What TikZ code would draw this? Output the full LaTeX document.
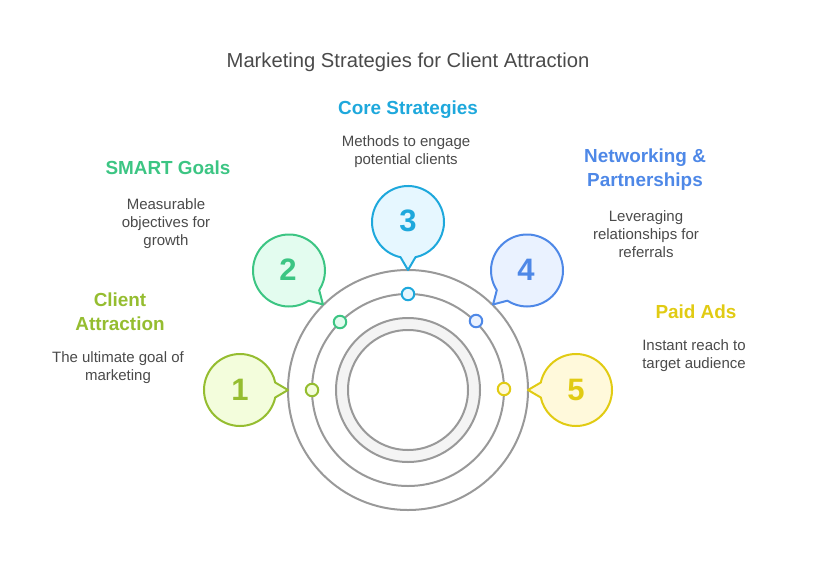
\documentclass[tikz,border=0pt]{standalone}
\usepackage{fontspec}
\setmainfont{Liberation Sans}
\definecolor{ringgrey}{HTML}{999999}
\definecolor{ringfill}{HTML}{F4F4F4}
\definecolor{textgrey}{HTML}{4A4A4A}
\definecolor{limeline}{HTML}{95BD30}
\definecolor{limefill}{HTML}{F3FDDC}
\definecolor{greenline}{HTML}{3CC583}
\definecolor{greenfill}{HTML}{E3FCEF}
\definecolor{cyanline}{HTML}{1EA8DC}
\definecolor{cyanfill}{HTML}{E6F7FF}
\definecolor{blueline}{HTML}{4E88E7}
\definecolor{bluefill}{HTML}{EAF2FF}
\definecolor{yellowline}{HTML}{E1CB13}
\definecolor{yellowfill}{HTML}{FFF9DB}
\tikzset{
    ring/.style={draw=ringgrey, line width=2},
    bubble/.style={line width=2, line join=round},
    dot/.style={circle, line width=2, minimum size=12.5, inner sep=0},
    numlabel/.style={font=\fontsize{31}{31}\selectfont\bfseries},
    heading/.style={font=\fontsize{18.9}{24}\selectfont\bfseries, align=center},
    blurb/.style={font=\fontsize{15}{18}\selectfont, text=textgrey, align=center}
}
\newcommand{\speechbubble}[4]{%
    \draw [bubble, draw=#4line, fill=#4fill] ([shift={(#1,#2)}] #3+12:36) arc [start angle=#3+12, end angle=#3+348, radius=36] -- ([shift={(#1,#2)}] #3:48) -- cycle;
}
\begin{document}
\begin{tikzpicture}[x=1pt, y=-1pt]
    \useasboundingbox (0,0) rectangle (816,570);
    \node (title) at (408,62) [font=\fontsize{20.2}{24}\selectfont, text=textgrey] {Marketing Strategies for Client Attraction};
    % rings
    \draw [ring] (408,390) circle [radius=120];
    \draw [ring] (408,390) circle [radius=96];
    \draw [ring, fill=ringfill] (408,390) circle [radius=72];
    \draw [ring, fill=white] (408,390) circle [radius=60];
    % dots on the middle ring
    \node (dotone) at (312,390) [dot, draw=limeline, fill=limefill] {};
    \node (dottwo) at (340,322) [dot, draw=greenline, fill=greenfill] {};
    \node (dotthree) at (408,294) [dot, draw=cyanline, fill=cyanfill] {};
    \node (dotfour) at (476,321) [dot, draw=blueline, fill=bluefill] {};
    \node (dotfive) at (504,389) [dot, draw=yellowline, fill=yellowfill] {};
    % bubbles
    \speechbubble{240}{390}{0}{lime}
    \speechbubble{289}{270.5}{45}{green}
    \speechbubble{408}{222}{90}{cyan}
    \speechbubble{527}{270.5}{135}{blue}
    \speechbubble{576}{390}{180}{yellow}
    \node (numone) at (240,390) [numlabel, text=limeline] {1};
    \node (numtwo) at (288,270) [numlabel, text=greenline] {2};
    \node (numthree) at (408,221) [numlabel, text=cyanline] {3};
    \node (numfour) at (526,270) [numlabel, text=blueline] {4};
    \node (numfive) at (576,390) [numlabel, text=yellowline] {5};
    % headings and text
    \node (client) at (120,312) [heading, text=limeline] {Client\\Attraction};
    \node (clienttext) at (118,368) [blurb] {The ultimate goal of\\marketing};
    \node (smart) at (168,168) [heading, text=greenline] {SMART Goals};
    \node (smarttext) at (166,224) [blurb] {Measurable\\objectives for\\growth};
    \node (core) at (408,110) [heading, text=cyanline] {Core Strategies};
    \node (coretext) at (406,152) [blurb] {Methods to engage\\potential clients};
    \node (network) at (645,170) [heading, text=blueline] {Networking \&\\Partnerships};
    \node (networktext) at (646,234) [blurb] {Leveraging\\relationships for\\referrals};
    \node (paid) at (696,312) [heading, text=yellowline] {Paid Ads};
    \node (paidtext) at (694,356) [blurb] {Instant reach to\\target audience};
\end{tikzpicture}
\end{document}
